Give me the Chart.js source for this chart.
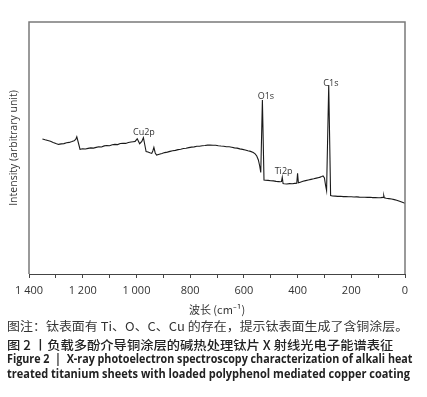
<!DOCTYPE html>
<html>
<head>
<meta charset="utf-8">
<script src="https://cdn.jsdelivr.net/npm/chart.js@4.4.1/dist/chart.umd.min.js"></script>
<style>
  html, body { margin: 0; padding: 0; background: #fff; }
  #wrap { position: relative; width: 427px; height: 397px; overflow: hidden; }
  #box { position: absolute; left: 0; top: 0; width: 427px; height: 319px; }
  .cap { position: absolute; left: 7px; white-space: nowrap; transform-origin: 0 50%; color: #222; }
  #c1 { top: 317px; font: 12px "Noto Sans CJK SC", sans-serif; color: #333; }
  #c2 { top: 335px; font: 500 12.5px "Noto Sans CJK SC", sans-serif; }
  #c3 { top: 351px; font: bold 11.5px "Open Sans", sans-serif; }
  #c4 { top: 366px; font: bold 11.5px "Open Sans", sans-serif; }
</style>
</head>
<body>
<div id="wrap">
  <div id="box"><canvas id="cXps"></canvas></div>
  <div class="cap" id="c1" data-w="401">图注：钛表面有 Ti、O、C、Cu 的存在，提示钛表面生成了含铜涂层。</div>
  <div class="cap" id="c2" data-w="386">图 2 丨负载多酚介导铜涂层的碱热处理钛片 X 射线光电子能谱表征</div>
  <div class="cap" id="c3" data-w="406">Figure 2 &nbsp;| &nbsp;X-ray photoelectron spectroscopy characterization of alkali heat</div>
  <div class="cap" id="c4" data-w="403">treated titanium sheets with loaded polyphenol mediated copper coating</div>
</div>
<script>
// binding energy (x) and intensity (arbitrary)
const energy = [1350,1340,1330,1320,1310,1300,1290,1280,1270,1260,1250,1240,1232,1226,1222,1216,1210,
  1200,1190,1180,1170,1160,1150,1140,1130,1120,1110,1100,1090,1080,1070,1060,1050,1040,1030,1020,1012,
  1005,997,992,988,980,974,968,964,957,950,943,939,935,930,925,
  915,905,895,885,875,865,855,845,835,825,815,805,795,785,775,765,755,745,735,726,
  715,705,695,685,675,665,655,645,635,625,615,605,595,585,575,565,558,552,546,541,537,531,525,
  520,510,500,490,480,470,465,460,457,454,450,440,430,420,410,403,400,397,
  390,380,370,360,350,340,330,320,317,310,305,300,296,292,284,277,
  270,260,250,240,230,220,210,200,190,180,170,160,150,140,130,120,110,100,90,81,79,77,
  70,60,50,40,31,20,10,0];
const intensity = [134,133.2,132.5,131.8,130.6,129.5,128.6,129.1,129.4,130.2,130.6,131.5,132.3,133.5,136.3,130,123.7,
  124.2,124,124.6,125.1,124.9,125.6,126.3,126,127.1,127.5,127.2,128.3,128.6,128.4,129.5,129.8,129.6,130.5,131,131.3,
  131.6,134.2,131.5,129.3,131.5,135.3,127,121.5,121,120.2,119.6,122,125.7,120,118,
  118.8,119.5,120.4,120.9,121.6,122.2,122.6,123.4,123.8,124.5,124.8,125.4,125.9,126.1,126.7,126.8,127.3,127.5,127.9,128,
  127.7,127.8,127.3,127,126.8,126.3,126.2,125.8,125.1,124.9,124.1,123.6,123,122.2,121.6,120.5,119.2,117,113,107,100.5,173,93,
  92.7,92.6,92.2,92.1,91.6,91.4,91.2,91.4,95.7,89.5,89.3,89,89.4,89.3,89.6,89.8,99.7,90.2,
  90.8,91.7,92.4,93,93.6,94.2,94.9,95.5,95.8,96.4,97,95,88,82.5,188,77.5,
  77,76.9,76.6,76.7,76.4,76.5,76.2,76.3,76,76.1,75.9,75.8,75.8,75.6,75.7,75.4,75.5,75.3,75.4,75.6,77.5,75.2,
  74.8,74.4,74,73.4,72.8,71.8,70.8,69.7];

// peak labels: text, energy, intensity of label centre
const peakNames = ['Cu2p', 'O1s', 'Ti2p', 'C1s'];
const peakE = [972, 518, 452, 276];
const peakI = [141, 176.5, 102, 190];

const fmt = v => String(v).replace(/\B(?=(\d{3})+(?!\d))/g, ' ');

const peakLabels = {
  id: 'peakLabels',
  afterDatasetsDraw(chart) {
    const { ctx, scales: { x, y } } = chart;
    ctx.save();
    ctx.font = '9px "Open Sans", sans-serif';
    ctx.fillStyle = '#333';
    ctx.textAlign = 'center';
    ctx.textBaseline = 'middle';
    peakNames.forEach((n, i) => ctx.fillText(n, x.getPixelForValue(peakE[i]), y.getPixelForValue(peakI[i])));
    ctx.restore();
  }
};

const frame = {
  id: 'frame',
  afterDraw(chart) {
    const { ctx, chartArea: a } = chart;
    ctx.save();
    ctx.strokeStyle = '#7a7a7a';
    ctx.lineWidth = 1.5;
    ctx.beginPath();
    ctx.moveTo(a.left, a.bottom);
    ctx.lineTo(a.left, a.top);
    ctx.lineTo(a.right, a.top);
    ctx.lineTo(a.right, a.bottom);
    ctx.stroke();
    ctx.restore();
  }
};

new Chart(document.getElementById('cXps').getContext('2d'), {
  type: 'line',
  data: {
    datasets: [{
      data: energy.map((e, i) => ({ x: e, y: intensity[i] })),
      borderColor: '#1a1a1a', borderWidth: 1.1,
      pointRadius: 0, tension: 0, fill: false
    }]
  },
  options: {
    responsive: true, maintainAspectRatio: false,
    animation: false,
    layout: { padding: { top: 22, right: 22, left: 0, bottom: 0 } },
    plugins: { legend: { display: false }, tooltip: { enabled: false } },
    scales: {
      x: {
        type: 'linear', reverse: true, min: 0, max: 1400,
        afterFit: s => { s.height = 45; },
        grid: { drawOnChartArea: false, drawTicks: true, tickLength: 4, color: '#444' },
        border: { color: '#444', width: 1 },
        ticks: {
          stepSize: 100, autoSkip: false, maxRotation: 0, padding: 6,
          color: '#333', font: { family: 'Open Sans', size: 11 },
          callback: v => v % 200 ? '' : fmt(v)
        },
        title: {
          display: true, text: '波长 (cm⁻¹)', color: '#333',
          font: { family: 'Noto Sans CJK SC', size: 11 }, padding: { top: 0, bottom: 3 }
        }
      },
      y: {
        min: -1, max: 251,
        afterFit: s => { s.width = 29; },
        grid: { display: false },
        border: { display: false },
        ticks: { display: false },
        title: {
          display: true, text: 'Intensity (arbitrary unit)', color: '#333',
          font: { family: 'Open Sans', size: 10.5 }, padding: { top: 8, bottom: 0 }
        }
      }
    }
  },
  plugins: [peakLabels, frame]
});

// squeeze caption lines to the widths in the figure
document.querySelectorAll('.cap').forEach(el => {
  const w = el.scrollWidth, t = +el.dataset.w;
  el.style.transform = `scaleX(${t / w})`;
});
</script>
</body>
</html>
